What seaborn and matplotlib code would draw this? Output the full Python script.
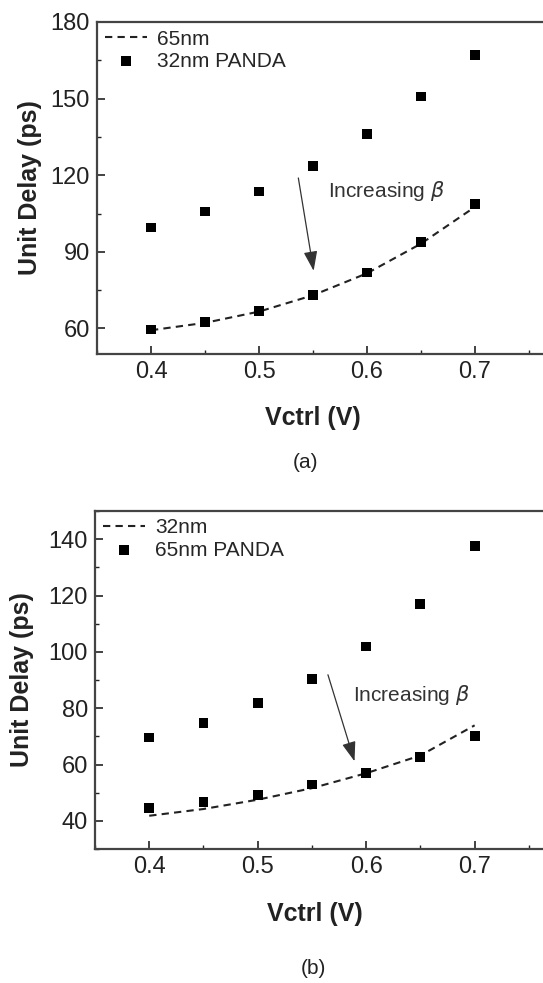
import numpy as np
import pandas as pd
import matplotlib.pyplot as plt
from matplotlib.ticker import MultipleLocator
import seaborn as sns

# ---- data ----
vctrl = [0.40, 0.45, 0.50, 0.55, 0.60, 0.65, 0.70]

# panel (a): 65nm reference curve, 32nm PANDA at two beta values
a_ref_65nm = [59.3, 62.2, 66.6, 73.0, 81.6, 93.2, 107.6]
a_panda_low_beta = [99.5, 105.8, 113.6, 123.7, 136.2, 150.8, 167.2]
a_panda_high_beta = [59.6, 62.5, 66.8, 73.2, 81.9, 94.0, 108.7]

# panel (b): 32nm reference curve, 65nm PANDA at two beta values
b_ref_32nm = [41.8, 44.2, 47.5, 51.6, 56.9, 63.2, 73.9]
b_panda_low_beta = [69.6, 74.8, 81.8, 90.3, 101.9, 117.1, 137.6]
b_panda_high_beta = [44.5, 46.6, 49.2, 52.9, 57.1, 62.8, 70.0]

a_yticks = [60, 90, 120, 150, 180]
b_yticks = [40, 60, 80, 100, 120, 140]
x_ticks = [0.4, 0.5, 0.6, 0.7]

sns.set_theme(style="ticks")
plt.rcParams['font.family'] = ['Liberation Sans', 'DejaVu Sans']
plt.rcParams['mathtext.fontset'] = 'dejavusans'

INK = '#222222'


def draw_panel(ax, ref, low, high, ref_label, panda_label, ylim, yticks, yminor,
               arrow_tail, arrow_head, text_xy):
    df_line = pd.DataFrame({'Vctrl': vctrl, 'Delay': ref})
    df_pts = pd.DataFrame({'Vctrl': vctrl + vctrl, 'Delay': low + high})

    sns.lineplot(data=df_line, x='Vctrl', y='Delay', ax=ax, color=INK,
                 linestyle=(0, (3.5, 2.5)), linewidth=1.5, label=ref_label)
    sns.scatterplot(data=df_pts, x='Vctrl', y='Delay', ax=ax, color='black',
                    marker='s', s=50, edgecolor='none', label=panda_label, zorder=3)

    ax.set_xlim(0.35, 0.35 + 0.1 * 463 / 108)
    ax.set_ylim(*ylim)
    ax.set_xticks(x_ticks)
    ax.set_yticks(yticks)
    ax.xaxis.set_minor_locator(MultipleLocator(0.05))
    ax.yaxis.set_minor_locator(MultipleLocator(yminor))
    ax.tick_params(which='major', direction='in', length=6, width=1.2,
                   labelsize=17, colors=INK, pad=5)
    ax.tick_params(which='minor', direction='in', length=3, width=1.0, colors=INK)
    for sp in ax.spines.values():
        sp.set_color('#444444')
        sp.set_linewidth(1.6)

    ax.set_xlabel('Vctrl (V)', fontsize=18, fontweight='bold', color=INK)
    ax.set_ylabel('Unit Delay (ps)', fontsize=18, fontweight='bold', color=INK)

    ax.annotate('', xy=arrow_head, xytext=arrow_tail,
                arrowprops=dict(arrowstyle='-|>,head_length=1.0,head_width=0.35',
                                color='#333333', lw=0.9))
    ax.text(text_xy[0], text_xy[1], r'Increasing $\it{\beta}$', fontsize=15,
            color='#333333', ha='left', va='center')

    ax.legend(loc='upper left', bbox_to_anchor=(-0.01, 1.015), frameon=False,
              fontsize=15, handlelength=2.0, handletextpad=0.5,
              labelspacing=0.15, borderaxespad=0.2)


fig = plt.figure(figsize=(5.43, 9.83), dpi=100)
ax_a = fig.add_axes([97 / 543, 1 - 354 / 983, 463 / 543, 332 / 983])
ax_b = fig.add_axes([95 / 543, 1 - 849 / 983, 465 / 543, 338 / 983])

draw_panel(ax_a, a_ref_65nm, a_panda_low_beta, a_panda_high_beta,
           '65nm', '32nm PANDA', (50, 180), a_yticks, 15,
           (0.536, 120), (0.551, 81.5), (0.564, 114))
draw_panel(ax_b, b_ref_32nm, b_panda_low_beta, b_panda_high_beta,
           '32nm', '65nm PANDA', (30, 150), b_yticks, 10,
           (0.564, 92.8), (0.59, 60.2), (0.588, 84.5))

ax_a.xaxis.set_label_coords(0.467, -0.157)
ax_a.yaxis.set_label_coords(-0.118, 0.5)
ax_b.xaxis.set_label_coords(0.473, -0.156)
ax_b.yaxis.set_label_coords(-0.131, 0.5)

fig.text(305 / 543, 1 - 463 / 983, '(a)', fontsize=15, color=INK, ha='center', va='center')
fig.text(313 / 543, 1 - 968 / 983, '(b)', fontsize=15, color=INK, ha='center', va='center')

fig.savefig('out.png', dpi=100)
